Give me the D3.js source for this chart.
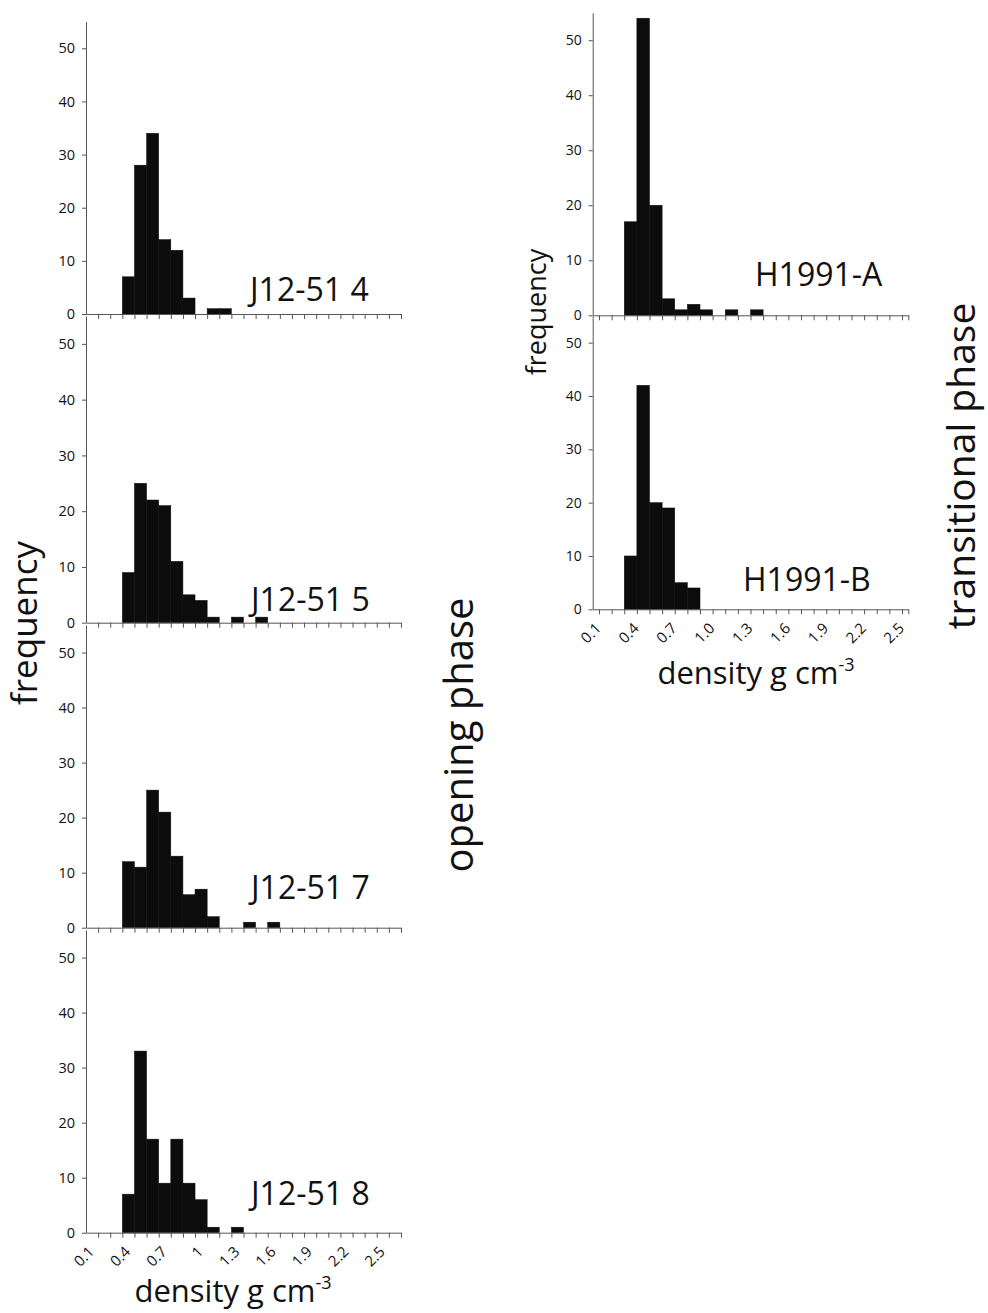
<!DOCTYPE html>
<meta charset="utf-8">
<style>
  body { margin: 0; background: #fff; }
  text { font-family: "Open Sans", sans-serif; fill: #111; }
</style>
<script src="https://d3js.org/d3.v7.min.js"></script>
<div id="chart"></div>
<script>

// counts per 0.1 g cm-3 bin, first bin is 0.3-0.4
var binStart = [0.3, 0.4, 0.5, 0.6, 0.7, 0.8, 0.9, 1.0, 1.1, 1.2, 1.3, 1.4, 1.5];
var j4 = [7, 28, 34, 14, 12, 3, 0, 1, 1];
var j5 = [9, 25, 22, 21, 11, 5, 4, 1, 0, 1, 0, 1];
var j7 = [12, 11, 25, 21, 13, 6, 7, 2, 0, 0, 1, 0, 1];
var j8 = [7, 33, 17, 9, 17, 9, 6, 1, 0, 1];
var hA = [17, 54, 20, 3, 1, 2, 1, 0, 1, 0, 1];
var hB = [10, 42, 20, 19, 5, 4];

var leftNames = ["J12-51 4", "J12-51 5", "J12-51 7", "J12-51 8"];
var rightNames = ["H1991-A", "H1991-B"];

// axis ticks and labels
var yTicks = [0, 10, 20, 30, 40, 50];
var xTicksLeft = [0.1,0.2,0.3,0.4,0.5,0.6,0.7,0.8,0.9,1.0,1.1,1.2,1.3,1.4,1.5,1.6,1.7,1.8,1.9,2.0,2.1,2.2,2.3,2.4,2.5,2.6];
var xTicksRight = [0.1,0.2,0.3,0.4,0.5,0.6,0.7,0.8,0.9,1.0,1.1,1.2,1.3,1.4,1.5,1.6,1.7,1.8,1.9,2.0,2.1,2.2,2.3,2.4,2.5,2.55];
var xLabelVals = [0.1, 0.4, 0.7, 1.0, 1.3, 1.6, 1.9, 2.2, 2.5];
var xLabelsLeft = ["0.1", "0.4", "0.7", "1", "1.3", "1.6", "1.9", "2.2", "2.5"];
var xLabelsRight = ["0.1", "0.4", "0.7", "1.0", "1.3", "1.6", "1.9", "2.2", "2.5"];

var W = 988, H = 1313;
var svg = d3.select("#chart").append("svg")
  .attr("width", W).attr("height", H);

var axisColor = "#555";

var xL = d3.scaleLinear().domain([0, 2.6]).range([86, 401]);
var xR = d3.scaleLinear().domain([0.05, 2.55]).range([592.7, 908.3]);

// panel boxes [top, bottom]
var leftBoxes = [[21.7, 314], [316, 622.7], [625, 927.7], [930, 1232.7]];
var rightBoxes = [[12.7, 315.3], [316, 609.3]];
var leftLabelPos = [[250, 301], [251, 611], [251, 899], [251, 1205]];
var rightLabelPos = [[755, 286], [743, 591]];

function panel(x, ticksX, box, counts, name, labelPos, yFont) {
  var y = d3.scaleLinear().domain([0, 55]).range([box[1], box[0]]);
  var g = svg.append("g");

  g.selectAll("rect")
    .data(counts)
    .enter().append("rect")
      .attr("x", function(d, i) { return x(binStart[i]); })
      .attr("width", function(d, i) { return x(binStart[i] + 0.1) - x(binStart[i]); })
      .attr("y", function(d) { return y(d); })
      .attr("height", function(d) { return y(0) - y(d); })
      .attr("fill", "#0c0c0c")
      .attr("stroke", "#0c0c0c")
      .attr("stroke-width", 0.5);

  var ya = g.append("g")
    .attr("transform", "translate(" + x.range()[0] + ",0)")
    .call(d3.axisLeft(y).tickValues(yTicks).tickSize(4).tickSizeOuter(0).tickPadding(7));
  ya.selectAll("path, line").attr("stroke", axisColor);
  ya.selectAll("text").style("font-size", yFont + "px").style("font-family", "Open Sans").attr("fill", "#111");

  var xa = g.append("g")
    .attr("transform", "translate(0," + y(0) + ")")
    .call(d3.axisBottom(x).tickValues(ticksX).tickSize(5).tickSizeOuter(0).tickFormat(""));
  xa.selectAll("path, line").attr("stroke", axisColor);

  g.append("text")
    .attr("x", labelPos[0]).attr("y", labelPos[1])
    .style("font-size", "32px")
    .text(name);
  return y;
}

var leftData = [j4, j5, j7, j8];
leftData.forEach(function(c, i) {
  panel(xL, xTicksLeft, leftBoxes[i], c, leftNames[i], leftLabelPos[i], 14.5);
});
[hA, hB].forEach(function(c, i) {
  panel(xR, xTicksRight, rightBoxes[i], c, rightNames[i], rightLabelPos[i], 14);
});

// rotated x labels
svg.append("g").selectAll("text")
  .data(xLabelVals)
  .enter().append("text")
    .attr("text-anchor", "end")
    .attr("transform", function(d) {
      return "translate(" + (xL(d - 0.05) + 3) + "," + (1232.7 + 20) + ") rotate(-45)";
    })
    .style("font-size", "15px")
    .text(function(d, i) { return xLabelsLeft[i]; });

svg.append("g").selectAll("text")
  .data(xLabelVals)
  .enter().append("text")
    .attr("text-anchor", "end")
    .attr("transform", function(d) {
      return "translate(" + (xR(d) + 3) + "," + (609.3 + 20) + ") rotate(-45)";
    })
    .style("font-size", "15px")
    .text(function(d, i) { return xLabelsRight[i]; });

// axis titles
function density(cx, by) {
  var t = svg.append("text")
    .attr("x", cx).attr("y", by)
    .attr("text-anchor", "middle")
    .style("font-size", "31px");
  t.append("tspan").text("density g cm");
  t.append("tspan").attr("dy", -13).style("font-size", "18px").text("-3");
}
density(233, 1302);
density(756, 684);

function vtitle(txt, x, cy, size) {
  svg.append("text")
    .attr("transform", "translate(" + x + "," + cy + ") rotate(-90)")
    .attr("text-anchor", "middle")
    .style("font-size", size + "px")
    .text(txt);
}
vtitle("frequency", 37, 623, 35);
vtitle("frequency", 546, 312, 27);
vtitle("opening phase", 473, 735, 40);
vtitle("transitional phase", 975, 466, 39);

</script>
